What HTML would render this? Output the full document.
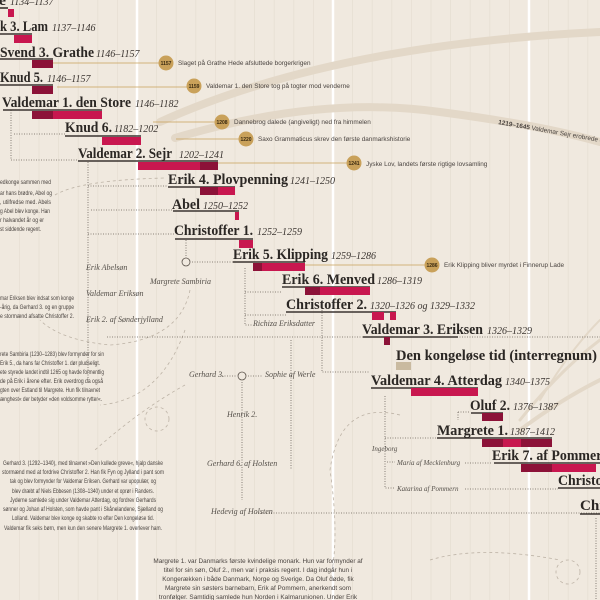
<!DOCTYPE html>
<html><head><meta charset="utf-8"><style>
html,body{margin:0;padding:0;background:#f0e9df}
svg{display:block}
.n{font-family:"Liberation Serif",serif;font-weight:bold;font-size:15px;fill:#2b2724}
.y{font-family:"Liberation Serif",serif;font-style:italic;font-size:10px;fill:#3a3430}
.s{font-family:"Liberation Sans Narrow","Liberation Sans",sans-serif;font-size:6.4px;fill:#4a4440}
.i{font-family:"Liberation Serif",serif;font-style:italic;font-size:8px;fill:#55504a}
.c{font-family:"Liberation Sans",sans-serif;font-weight:bold;font-size:5px;fill:#3a2a10}
.d{stroke:#6a625a;stroke-width:0.8;stroke-dasharray:1,1.5;fill:none}
.g{stroke:#bdb3a6;stroke-width:0.8;stroke-dasharray:3,3;fill:none}
</style></head><body>
<svg width="600" height="600" viewBox="0 0 600 600" xmlns="http://www.w3.org/2000/svg">
<rect width="600" height="600" fill="#f0e9df"/>
<g stroke="#e7dfd3" stroke-width="0.8">
<line x1="19.4" y1="0" x2="19.4" y2="600"/><line x1="39" y1="0" x2="39" y2="600"/><line x1="58.6" y1="0" x2="58.6" y2="600"/><line x1="78.2" y1="0" x2="78.2" y2="600"/><line x1="97.8" y1="0" x2="97.8" y2="600"/><line x1="117.4" y1="0" x2="117.4" y2="600"/>
<line x1="156.6" y1="0" x2="156.6" y2="600"/><line x1="176.2" y1="0" x2="176.2" y2="600"/><line x1="195.8" y1="0" x2="195.8" y2="600"/><line x1="215.4" y1="0" x2="215.4" y2="600"/><line x1="235" y1="0" x2="235" y2="600"/><line x1="254.6" y1="0" x2="254.6" y2="600"/><line x1="274.2" y1="0" x2="274.2" y2="600"/><line x1="293.8" y1="0" x2="293.8" y2="600"/><line x1="313.4" y1="0" x2="313.4" y2="600"/>
<line x1="352.6" y1="0" x2="352.6" y2="600"/><line x1="372.2" y1="0" x2="372.2" y2="600"/><line x1="391.8" y1="0" x2="391.8" y2="600"/><line x1="411.4" y1="0" x2="411.4" y2="600"/><line x1="431" y1="0" x2="431" y2="600"/><line x1="450.6" y1="0" x2="450.6" y2="600"/><line x1="470.2" y1="0" x2="470.2" y2="600"/><line x1="489.8" y1="0" x2="489.8" y2="600"/><line x1="509.4" y1="0" x2="509.4" y2="600"/>
<line x1="548.6" y1="0" x2="548.6" y2="600"/><line x1="568.2" y1="0" x2="568.2" y2="600"/><line x1="587.8" y1="0" x2="587.8" y2="600"/>
</g>
<g stroke="#ffffff" stroke-width="2.5"><line x1="137" y1="0" x2="137" y2="600"/><line x1="333" y1="0" x2="333" y2="600"/><line x1="529" y1="0" x2="529" y2="600"/></g>
<g fill="none" stroke="#e3d8c8" stroke-linecap="round">
<path d="M160 122 Q330 45 600 32" stroke-width="8"/>
<path d="M175 138 Q320 95 440 112 Q540 125 600 142" stroke-width="8"/>
<path d="M600 340 Q560 370 520 420" stroke-width="3"/>
<path d="M600 380 Q560 400 520 430" stroke-width="4"/>
<path d="M600 320 Q570 350 540 400" stroke-width="2"/>
</g>
<path class="g" d="M55 195 Q80 180 165 178"/>
<path class="g" d="M190 290 Q180 340 110 345 Q60 340 40 320"/>
<path class="g" d="M185 330 Q160 400 100 405"/>
<path class="g" d="M185 385 Q140 410 95 450"/>
<circle class="g" cx="157" cy="419" r="12"/>
<path class="g" d="M400 415 Q340 400 330 470 Q340 540 330 580"/>
<path class="g" d="M430 560 Q480 545 560 560"/>
<circle class="g" cx="568" cy="572" r="12"/>
<path class="d" d="M11 110 V160 H78"/><path class="d" d="M14 134 H65"/>
<path class="d" d="M88 162 V380"/><path class="d" d="M88 186 H168"/><path class="d" d="M91 210 H172"/><path class="d" d="M88 234 H174"/>
<path class="d" d="M186 240 V262"/><path class="d" d="M192 262 H233"/>
<path class="d" d="M245 268 V325 H252"/><path class="d" d="M245 292 H282"/><path class="d" d="M245 315 H286"/>
<path class="d" d="M107 337 H600"/><path class="d" d="M322 310 V372 H370"/>
<path class="d" d="M291 340 V470"/><path class="d" d="M222 376 H236 M248 376 H262"/>
<path class="d" d="M242 382 V500"/><path class="d" d="M256 513 H600"/>
<path class="d" d="M385 396 V488 H395"/><path class="d" d="M385 438 H437"/><path class="d" d="M387 462 H395 M465 463 H492"/><path class="d" d="M465 489 H558"/>
<path class="d" d="M458 412 H470 M458 412 V420"/>
<path class="d" d="M596 518 V600"/>
<circle cx="186" cy="262" r="4" fill="#f0e9df" stroke="#5a524a" stroke-width="0.8"/>
<circle cx="242" cy="376" r="4" fill="#f0e9df" stroke="#5a524a" stroke-width="0.8"/>
<g stroke="#c9a15a" stroke-width="0.8"><line x1="53" y1="63" x2="160" y2="63"/><line x1="57" y1="87" x2="188" y2="87"/><line x1="153" y1="122" x2="216" y2="122"/><line x1="176" y1="139" x2="240" y2="139"/><line x1="218" y1="163" x2="348" y2="163"/><line x1="305" y1="265" x2="426" y2="265"/></g>
<g fill="#c9a15a"><circle cx="166" cy="63" r="7.5"/><circle cx="194" cy="86" r="7.5"/><circle cx="222" cy="122" r="7.5"/><circle cx="246" cy="139" r="7.5"/><circle cx="354" cy="163" r="7.5"/><circle cx="432" cy="265" r="7.5"/></g>
<g class="c" text-anchor="middle"><text x="166" y="65">1157</text><text x="194" y="88">1159</text><text x="222" y="124">1208</text><text x="246" y="141">1220</text><text x="354" y="165">1241</text><text x="432" y="267">1286</text></g>
<g class="s"><text x="178" y="65">Slaget på Grathe Hede afsluttede borgerkrigen</text><text x="206" y="88">Valdemar 1. den Store tog på togter mod venderne</text><text x="234" y="124">Dannebrog dalede (angiveligt) ned fra himmelen</text><text x="258" y="141">Saxo Grammaticus skrev den første danmarkshistorie</text><text x="366" y="166">Jyske Lov, landets første rigtige lovsamling</text><text x="444" y="267">Erik Klipping bliver myrdet i Finnerup Lade</text></g>
<text class="s" x="498" y="124" transform="rotate(10 498 124)"><tspan font-weight="bold">1219–1645</tspan> Valdemar Sejr erobrede dele af Estland</text>
<g stroke="#3a3430" stroke-width="1.6">
<line x1="0" y1="8" x2="8" y2="8"/><line x1="0" y1="34" x2="32" y2="34"/><line x1="0" y1="59" x2="53" y2="59"/><line x1="0" y1="85" x2="53" y2="85"/><line x1="3" y1="110" x2="102" y2="110"/><line x1="65" y1="136" x2="141" y2="136"/><line x1="78" y1="161" x2="218" y2="161"/><line x1="168" y1="187" x2="235" y2="187"/><line x1="173" y1="211" x2="239" y2="211"/><line x1="175" y1="239" x2="253" y2="239"/><line x1="233" y1="262" x2="305" y2="262"/><line x1="282" y1="287" x2="370" y2="287"/><line x1="286" y1="312" x2="396" y2="312"/><line x1="363" y1="337" x2="458" y2="337"/><line x1="371" y1="388" x2="478" y2="388"/><line x1="471" y1="413" x2="503" y2="413"/><line x1="437" y1="438" x2="552" y2="438"/><line x1="494" y1="463" x2="600" y2="463"/><line x1="558" y1="488" x2="600" y2="488"/><line x1="580" y1="514" x2="600" y2="514"/>
</g>
<g>
<rect x="8" y="9" width="6" height="8" fill="#c8174f"/>
<rect x="14" y="35" width="18" height="8" fill="#c8174f"/>
<rect x="32" y="60" width="21" height="8" fill="#8c1238"/>
<rect x="32" y="86" width="21" height="8" fill="#8c1238"/>
<rect x="32" y="111" width="21" height="8" fill="#8c1238"/><rect x="53" y="111" width="49" height="8" fill="#c8174f"/>
<rect x="102" y="137" width="39" height="8" fill="#c8174f"/>
<rect x="138" y="162" width="62" height="8" fill="#c8174f"/><rect x="200" y="162" width="18" height="8" fill="#8c1238"/>
<rect x="200" y="187" width="18" height="8" fill="#8c1238"/><rect x="218" y="187" width="17" height="8" fill="#c8174f"/>
<rect x="235" y="212" width="4" height="8" fill="#c8174f"/>
<rect x="239" y="240" width="14" height="8" fill="#c8174f"/>
<rect x="253" y="263" width="9" height="8" fill="#8c1238"/><rect x="262" y="263" width="43" height="8" fill="#c8174f"/>
<rect x="305" y="287" width="15" height="8" fill="#8c1238"/><rect x="320" y="287" width="50" height="8" fill="#c8174f"/>
<rect x="372" y="312" width="12" height="8" fill="#c8174f"/><rect x="390" y="312" width="6" height="8" fill="#c8174f"/>
<rect x="384" y="337" width="6" height="8" fill="#8c1238"/>
<rect x="396" y="362" width="15" height="8" fill="#c9baa0"/>
<rect x="411" y="388" width="67" height="8" fill="#c8174f"/>
<rect x="482" y="413" width="21" height="8" fill="#8c1238"/>
<rect x="482" y="439" width="21" height="8" fill="#8c1238"/><rect x="503" y="439" width="18" height="8" fill="#c8174f"/><rect x="521" y="439" width="31" height="8" fill="#8c1238"/>
<rect x="521" y="464" width="31" height="8" fill="#8c1238"/><rect x="552" y="464" width="44" height="8" fill="#c8174f"/>
</g>
<text class="n" x="-10" y="5" textLength="16" lengthAdjust="spacingAndGlyphs">ne</text><text class="y" x="10" y="5">1134–1137</text>
<text class="n" x="0" y="31" textLength="48" lengthAdjust="spacingAndGlyphs">k 3. Lam</text><text class="y" x="52" y="31">1137–1146</text>
<text class="n" x="0" y="57" textLength="94" lengthAdjust="spacingAndGlyphs">Svend 3. Grathe</text><text class="y" x="96" y="57">1146–1157</text>
<text class="n" x="0" y="82" textLength="43" lengthAdjust="spacingAndGlyphs">Knud 5.</text><text class="y" x="47" y="82">1146–1157</text>
<text class="n" x="2" y="107" textLength="129" lengthAdjust="spacingAndGlyphs">Valdemar 1. den Store</text><text class="y" x="135" y="107">1146–1182</text>
<text class="n" x="65" y="132" textLength="47" lengthAdjust="spacingAndGlyphs">Knud 6.</text><text class="y" x="114" y="132">1182–1202</text>
<text class="n" x="78" y="158" textLength="94" lengthAdjust="spacingAndGlyphs">Valdemar 2. Sejr</text><text class="y" x="179" y="158">1202–1241</text>
<text class="n" x="168" y="184" textLength="120" lengthAdjust="spacingAndGlyphs">Erik 4. Plovpenning</text><text class="y" x="290" y="184">1241–1250</text>
<text class="n" x="172" y="209" textLength="28" lengthAdjust="spacingAndGlyphs">Abel</text><text class="y" x="203" y="209">1250–1252</text>
<text class="n" x="174" y="235" textLength="79" lengthAdjust="spacingAndGlyphs">Christoffer 1.</text><text class="y" x="257" y="235">1252–1259</text>
<text class="n" x="233" y="259" textLength="95" lengthAdjust="spacingAndGlyphs">Erik 5. Klipping</text><text class="y" x="331" y="259">1259–1286</text>
<text class="n" x="282" y="284" textLength="93" lengthAdjust="spacingAndGlyphs">Erik 6. Menved</text><text class="y" x="377" y="284">1286–1319</text>
<text class="n" x="286" y="309" textLength="81" lengthAdjust="spacingAndGlyphs">Christoffer 2.</text><text class="y" x="370" y="309">1320–1326 og 1329–1332</text>
<text class="n" x="362" y="334" textLength="121" lengthAdjust="spacingAndGlyphs">Valdemar 3. Eriksen</text><text class="y" x="487" y="334">1326–1329</text>
<text class="n" x="396" y="360" textLength="201" lengthAdjust="spacingAndGlyphs">Den kongeløse tid (interregnum)</text>
<text class="n" x="371" y="385" textLength="131" lengthAdjust="spacingAndGlyphs">Valdemar 4. Atterdag</text><text class="y" x="505" y="385">1340–1375</text>
<text class="n" x="470" y="410" textLength="40" lengthAdjust="spacingAndGlyphs">Oluf 2.</text><text class="y" x="513" y="410">1376–1387</text>
<text class="n" x="437" y="435" textLength="71" lengthAdjust="spacingAndGlyphs">Margrete 1.</text><text class="y" x="510" y="435">1387–1412</text>
<text class="n" x="492" y="460" textLength="118" lengthAdjust="spacingAndGlyphs">Erik 7. af Pommern</text>
<text class="n" x="558" y="485" textLength="66" lengthAdjust="spacingAndGlyphs">Christoffer</text>
<text class="n" x="580" y="510" textLength="26" lengthAdjust="spacingAndGlyphs">Chr</text>
<g class="i"><text x="86" y="270">Erik Abelsøn</text><text x="86" y="296">Valdemar Eriksøn</text><text x="86" y="322">Erik 2. af Sønderjylland</text><text x="150" y="284">Margrete Sambiria</text><text x="253" y="326">Richiza Eriksdatter</text><text x="189" y="377">Gerhard 3.</text><text x="265" y="377">Sophie af Werle</text><text x="227" y="417">Henrik 2.</text><text x="207" y="466">Gerhard 6. af Holsten</text><text x="211" y="514">Hedevig af Holsten</text><text x="372" y="451" font-size="7">Ingeborg</text><text x="397" y="465" font-size="7">Maria af Mecklenburg</text><text x="397" y="491" font-size="7">Katarina af Pommern</text></g>
<g class="s" lengthAdjust="spacingAndGlyphs">
<text x="0" y="184" textLength="51" lengthAdjust="spacingAndGlyphs">edkonge sammen med</text><text x="0" y="195" textLength="52" lengthAdjust="spacingAndGlyphs">ar hans brødre, Abel og</text><text x="0" y="204" textLength="51" lengthAdjust="spacingAndGlyphs">, utilfredse med. Abels</text><text x="0" y="213" textLength="50" lengthAdjust="spacingAndGlyphs">g Abel blev konge. Han</text><text x="0" y="222" textLength="44" lengthAdjust="spacingAndGlyphs">r halvandet år og er</text><text x="0" y="231" textLength="41" lengthAdjust="spacingAndGlyphs">st siddende regent.</text>
<text x="0" y="300" textLength="74" lengthAdjust="spacingAndGlyphs">mar Eriksen blev indsat som konge</text><text x="0" y="309" textLength="74" lengthAdjust="spacingAndGlyphs">-årig, da Gerhard 3. og en gruppe</text><text x="0" y="318" textLength="74" lengthAdjust="spacingAndGlyphs">e stormænd afsatte Christoffer 2.</text>
<text x="0" y="356" textLength="104" lengthAdjust="spacingAndGlyphs">rete Sambiria (1230–1283) blev formynder for sin</text><text x="0" y="365" textLength="100" lengthAdjust="spacingAndGlyphs">Erik 5., da hans far Christoffer 1. dør pludseligt.</text><text x="0" y="374" textLength="104" lengthAdjust="spacingAndGlyphs">ete styrede landet indtil 1265 og havde formentlig</text><text x="0" y="383" textLength="103" lengthAdjust="spacingAndGlyphs">de på Erik i årene efter. Erik overdrog da også</text><text x="0" y="392" textLength="100" lengthAdjust="spacingAndGlyphs">gten over Estland til Margrete. Hun fik tilnavnet</text><text x="0" y="401" textLength="102" lengthAdjust="spacingAndGlyphs">ænghest« der betyder »den voldsomme rytter«.</text>
</g>
<g class="s" text-anchor="middle">
<text x="83" y="465" textLength="160" lengthAdjust="spacingAndGlyphs">Gerhard 3. (1292–1340), med tilnavnet »Den kullede greve«, hjalp danske</text><text x="83" y="474" textLength="162" lengthAdjust="spacingAndGlyphs">stormænd med at fordrive Christoffer 2. Han fik Fyn og Jylland i pant som</text><text x="83" y="483" textLength="146" lengthAdjust="spacingAndGlyphs">tak og blev formynder for Valdemar Eriksen. Gerhard var upopulær, og</text><text x="83" y="493" textLength="142" lengthAdjust="spacingAndGlyphs">blev dræbt af Niels Ebbesen (1308–1340) under et oprør i Randers.</text><text x="83" y="502" textLength="146" lengthAdjust="spacingAndGlyphs">Jyderne samlede sig under Valdemar Atterdag, og fordrev Gerhards</text><text x="83" y="511" textLength="160" lengthAdjust="spacingAndGlyphs">sønner og Johan af Holsten, som havde pant i Skånelandene, Sjælland og</text><text x="83" y="520" textLength="142" lengthAdjust="spacingAndGlyphs">Lolland. Valdemar blev konge og skabte ro efter Den kongeløse tid.</text><text x="83" y="530" textLength="158" lengthAdjust="spacingAndGlyphs">Valdemar fik seks børn, men kun den senere Margrete 1. overlever ham.</text>
<text x="258" y="563">Margrete 1. var Danmarks første kvindelige monark. Hun var formynder af</text><text x="258" y="572">titel for sin søn, Oluf 2., men var i praksis regent. I dag indgår hun i</text><text x="258" y="581">Kongerækken i både Danmark, Norge og Sverige. Da Oluf døde, fik</text><text x="258" y="590">Margrete sin søsters barnebarn, Erik af Pommern, anerkendt som</text><text x="258" y="599">tronfølger. Samtidig samlede hun Norden i Kalmarunionen. Under Erik</text>
</g>
</svg>
</body></html>
